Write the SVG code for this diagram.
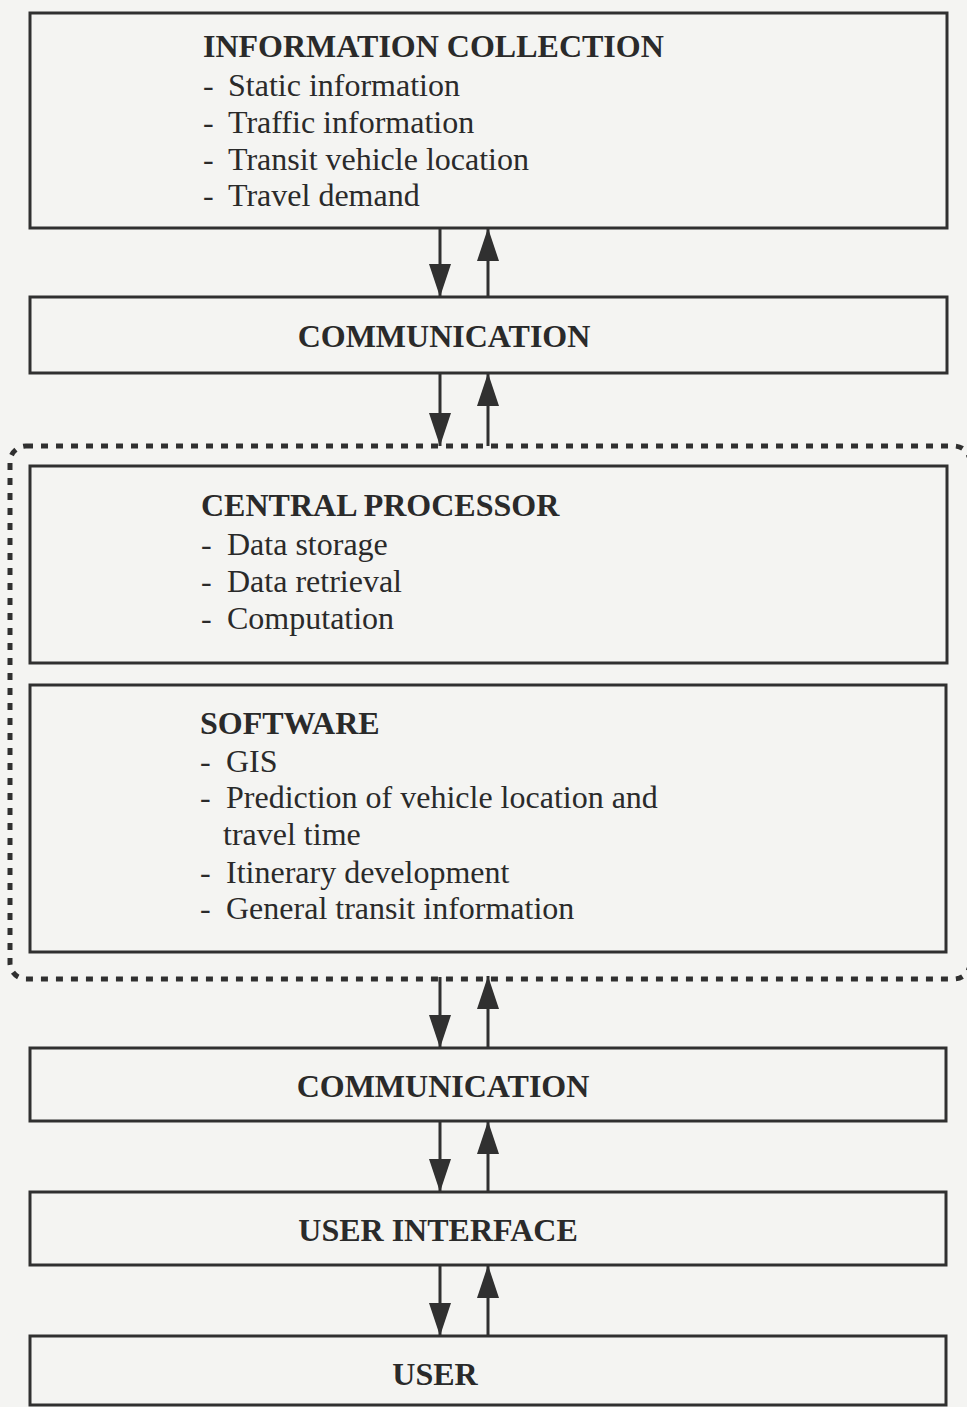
<svg xmlns="http://www.w3.org/2000/svg" width="967" height="1407" viewBox="0 0 967 1407">
<style>
.bg{fill:#f4f4f2}
.box{fill:#f4f4f2;stroke:#303030;stroke-width:3}
.group{fill:none;stroke:#303030;stroke-width:5;stroke-dasharray:7 8}
.hd{font-family:"Liberation Serif","Times New Roman",serif;font-size:32px;font-weight:bold;fill:#2a2a2a}
.tx{font-family:"Liberation Serif","Times New Roman",serif;font-size:32px;fill:#2a2a2a}
.c{text-anchor:middle}
.ar{stroke:#303030;stroke-width:3;fill:none;marker-end:url(#ah)}
</style>
<defs>
<marker id="ah" viewBox="0 0 33 22" refX="33" refY="11" markerWidth="33" markerHeight="22" markerUnits="userSpaceOnUse" orient="auto">
<path d="M0,0 L33,11 L0,22 z" fill="#303030"/>
</marker>
</defs>
<rect class="bg" x="0" y="0" width="967" height="1407"/>
<g id="processing-group">
<rect class="group" x="10" y="446" width="960" height="533" rx="16" ry="16"/>
</g>
<g id="information-collection">
<rect class="box" x="30" y="13" width="917" height="215"/>
<text class="hd" x="203" y="57">INFORMATION COLLECTION</text>
<text class="tx" x="203" y="96">-</text><text class="tx" x="228" y="96">Static information</text>
<text class="tx" x="203" y="133">-</text><text class="tx" x="228" y="133">Traffic information</text>
<text class="tx" x="203" y="170">-</text><text class="tx" x="228" y="170">Transit vehicle location</text>
<text class="tx" x="203" y="206">-</text><text class="tx" x="228" y="206">Travel demand</text>
</g>
<g id="communication-1">
<rect class="box" x="30" y="297" width="917" height="76"/>
<text class="hd c" x="444" y="347">COMMUNICATION</text>
</g>
<g id="central-processor">
<rect class="box" x="30" y="466" width="917" height="197"/>
<text class="hd" x="201" y="516">CENTRAL PROCESSOR</text>
<text class="tx" x="201" y="555">-</text><text class="tx" x="227" y="555">Data storage</text>
<text class="tx" x="201" y="592">-</text><text class="tx" x="227" y="592">Data retrieval</text>
<text class="tx" x="201" y="629">-</text><text class="tx" x="227" y="629">Computation</text>
</g>
<g id="software">
<rect class="box" x="30" y="685" width="916" height="267"/>
<text class="hd" x="200" y="734">SOFTWARE</text>
<text class="tx" x="200" y="772">-</text><text class="tx" x="226" y="772">GIS</text>
<text class="tx" x="200" y="808">-</text><text class="tx" x="226" y="808">Prediction of vehicle location and</text>
<text class="tx" x="223" y="845">travel time</text>
<text class="tx" x="200" y="883">-</text><text class="tx" x="226" y="883">Itinerary development</text>
<text class="tx" x="200" y="919">-</text><text class="tx" x="226" y="919">General transit information</text>
</g>
<g id="communication-2">
<rect class="box" x="30" y="1048" width="916" height="73"/>
<text class="hd c" x="443" y="1097">COMMUNICATION</text>
</g>
<g id="user-interface">
<rect class="box" x="30" y="1192" width="916" height="73"/>
<text class="hd c" x="438" y="1241">USER INTERFACE</text>
</g>
<g id="user">
<rect class="box" x="30" y="1336" width="916" height="69"/>
<text class="hd c" x="435" y="1385">USER</text>
</g>
<g id="connectors">
<line class="ar" x1="440" y1="228" x2="440" y2="297"/>
<line class="ar" x1="488" y1="297" x2="488" y2="228"/>
<line class="ar" x1="440" y1="373" x2="440" y2="446"/>
<line class="ar" x1="488" y1="446" x2="488" y2="373"/>
<line class="ar" x1="440" y1="977" x2="440" y2="1048"/>
<line class="ar" x1="488" y1="1048" x2="488" y2="976"/>
<line class="ar" x1="440" y1="1121" x2="440" y2="1192"/>
<line class="ar" x1="488" y1="1192" x2="488" y2="1121"/>
<line class="ar" x1="440" y1="1265" x2="440" y2="1336"/>
<line class="ar" x1="488" y1="1336" x2="488" y2="1265"/>
</g>
</svg>
